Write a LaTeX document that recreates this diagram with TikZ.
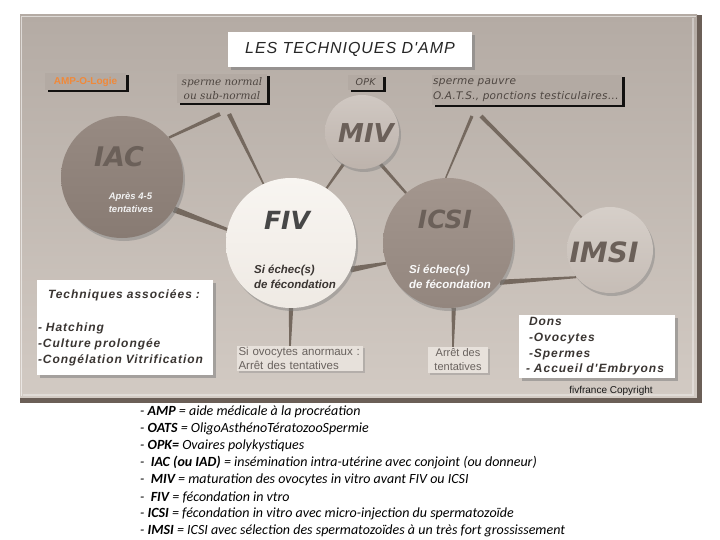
\documentclass[tikz,border=0pt]{standalone}
\usepackage{fontspec}
\setmainfont{Liberation Sans}
\newfontfamily\legfont{Carlito}
\newfontfamily\titlefont{Liberation Sans}[LetterSpace=6]
\newfontfamily\spacedfont{Liberation Sans}[LetterSpace=8]
\newfontfamily\boxserif{DejaVu Serif}
\newfontfamily\boxsans{DejaVu Sans}[LetterSpace=3]
\newfontfamily\bigfont{DejaVu Sans}
\usetikzlibrary{calc,shadows,backgrounds}
\definecolor{panelTop}{HTML}{B4ABA4}
\definecolor{panelMid}{HTML}{A69B94}
\definecolor{panelBot}{HTML}{D2CAC3}
\definecolor{panelDark}{HTML}{6B5F57}
\definecolor{conncol}{HTML}{75695F}
\definecolor{boxbg}{HTML}{B3AAA3}
\definecolor{boxtext}{HTML}{4E4641}
\definecolor{embtext}{HTML}{6B6059}
\definecolor{darktext}{HTML}{3A3532}
\definecolor{beige}{HTML}{E7E1DB}
\definecolor{orangetext}{HTML}{F0893A}
\definecolor{iacTop}{HTML}{978A82}
\definecolor{iacBot}{HTML}{887B73}
\definecolor{mivTop}{HTML}{D0C8C2}
\definecolor{mivBot}{HTML}{BDB3AC}
\definecolor{fivTop}{HTML}{F8F5F1}
\definecolor{fivBot}{HTML}{EFEAE4}
\definecolor{icsiTop}{HTML}{A3968E}
\definecolor{icsiBot}{HTML}{93867E}
\definecolor{imsiTop}{HTML}{D6CFC9}
\definecolor{imsiBot}{HTML}{C6BDB6}
\newcommand{\wedgeconn}[4]{%
  \fill[conn] ($(#1)!#3!90:(#2)$) -- ($(#1)!#3!-90:(#2)$) -- ($(#2)!#4!90:(#1)$) -- ($(#2)!#4!-90:(#1)$) -- cycle;}
\begin{document}
\begin{tikzpicture}[x=1pt,y=-1pt,
  circ/.style={circle,inner sep=0pt,drop shadow={shadow xshift=2pt,shadow yshift=-3pt,opacity=0.45}},
  conn/.style={fill=conncol},
  topbox/.style={rectangle,inner sep=0pt,fill=boxbg,text=boxtext,drop shadow={shadow xshift=2.5pt,shadow yshift=-2.5pt,opacity=0.9,fill=black}},
  whitebox/.style={rectangle,fill=white,drop shadow={shadow xshift=3pt,shadow yshift=-3pt,opacity=0.55}},
  beigebox/.style={rectangle,inner sep=0pt,fill=beige,text=boxtext!85!white,drop shadow={shadow xshift=2pt,shadow yshift=-2pt,opacity=0.35}},
  biglabel/.style={font=\bigfont\fontsize{25}{28}\selectfont\bfseries\itshape,text=embtext},
  smalllabel/.style={align=left,font=\fontsize{11.5}{15}\selectfont\bfseries\itshape},
  legline/.style={anchor=west,inner sep=0pt,font=\legfont\fontsize{14}{16}\selectfont\itshape,text=black}
]
\useasboundingbox (0,0) rectangle (720,540);
% panel
\begin{scope}[on background layer]
  \fill[top color=panelTop,middle color=panelMid,bottom color=panelBot] (20,15) rectangle (697,398);
  \fill[panelDark] (697,15) rectangle (702,403);
  \fill[panelDark] (20,398) rectangle (702,403);
  \draw[white,opacity=0.55,line width=1.2pt] (21.5,396) -- (21.5,16.5) -- (696,16.5);
  \draw[white,opacity=0.35,line width=2pt] (693,18) -- (693,395) -- (23,395);
\end{scope}

% title and top labels
\node[rectangle,fill=white,minimum width=244pt,minimum height=35pt,inner sep=0pt,
      drop shadow={shadow xshift=3pt,shadow yshift=-3pt,opacity=0.6},
      font=\titlefont\fontsize{16}{18}\selectfont\itshape,text=black!85] (title) at (350,49.5) {LES TECHNIQUES D'AMP};
\node[topbox,minimum width=81pt,minimum height=17pt,text=orangetext,font=\fontsize{10}{11}\selectfont\bfseries] (logo) at (85.5,81.5) {AMP-O-Logie};
\node[topbox,minimum width=90pt,minimum height=29pt,align=center,font=\boxserif\fontsize{10.5}{14}\selectfont\itshape] (snorm) at (222,88.5) {sperme normal\\ou sub-normal};
\node[topbox,minimum width=35pt,minimum height=15pt,font=\boxsans\fontsize{9.5}{11}\selectfont\itshape] (opk) at (365.5,82.5) {OPK};
\node[topbox,minimum width=190pt,minimum height=30pt,text width=188pt,align=left,font=\boxsans\fontsize{10.5}{15}\selectfont\itshape] (spauv) at (527,90) {sperme pauvre\\O.A.T.S., ponctions testiculaires...};

% circles
\node[circ,minimum size=122pt,top color=iacTop,bottom color=iacBot] (iac) at (122,177) {};
\node[circ,minimum size=74pt,top color=mivTop,bottom color=mivBot] (miv) at (362,132) {};
\node[circ,minimum size=130pt,top color=fivTop,bottom color=fivBot] (fiv) at (291,243) {};
\node[circ,minimum size=130pt,top color=icsiTop,bottom color=icsiBot] (icsi) at (448,243) {};
\node[circ,minimum size=86pt,top color=imsiTop,bottom color=imsiBot] (imsi) at (610,250) {};

% circle labels
\node[biglabel,font=\bigfont\fontsize{27}{28}\selectfont\bfseries\itshape] (iacl) at (119,157) {IAC};
\node[smalllabel,font=\fontsize{9.5}{13}\selectfont\bfseries\itshape,text=white!90!gray] (iact) at (131,203) {Après 4-5\\tentatives};
\node[biglabel,font=\bigfont\fontsize{26}{28}\selectfont\bfseries\itshape] (mivl) at (366,133) {MIV};
\node[biglabel,text=black!72] (fivl) at (287,220) {FIV};
\node[smalllabel,text=darktext] (fivt) at (295,277) {Si échec(s)\\de fécondation};
\node[biglabel] (icsil) at (445,219) {ICSI};
\node[smalllabel,text=white!95!gray] (icsit) at (450,277) {Si échec(s)\\de fécondation};
\node[biglabel,font=\bigfont\fontsize{28}{30}\selectfont\bfseries\itshape] (imsil) at (604,252) {IMSI};

% bottom boxes
\node[whitebox,inner xsep=1pt,inner ysep=0pt,minimum width=176pt,minimum height=95pt,text width=174pt,align=left,
      font=\spacedfont\fontsize{12}{16}\selectfont\bfseries\itshape,text=darktext] (tech) at (125,327.5)
  {\hspace*{10pt}Techniques associées :\\[17pt]- Hatching\\-Culture prolongée\\-Congélation Vitrification};
\node[beigebox,minimum width=126pt,minimum height=25pt,text width=123pt,align=left,font=\fontsize{11.5}{14}\selectfont] (ovo) at (300,358.5)
  {Si ovocytes anormaux :\\Arrêt des tentatives};
\node[beigebox,minimum width=60pt,minimum height=26pt,align=center,font=\fontsize{11}{14}\selectfont] (arret) at (458,360)
  {Arrêt des\\tentatives};
\node[whitebox,inner xsep=7pt,inner ysep=0pt,minimum width=156pt,minimum height=63pt,text width=142pt,align=left,
      font=\spacedfont\fontsize{12}{15.6}\selectfont\bfseries\itshape,text=darktext] (dons) at (597,346.5)
  {\hspace*{3pt}Dons\\\hspace*{3pt}-Ovocytes\\\hspace*{3pt}-Spermes\\- Accueil d'Embryons};
\node[font=\fontsize{10}{11}\selectfont,text=black!90] (copy) at (611,391) {fivfrance Copyright};

% connectors
\coordinate (snA) at (220,114);
\coordinate (snB) at (229,114);
\coordinate (spA) at (472,116);
\coordinate (spB) at (481,116);
\coordinate (ovoTop) at (290,347);
\coordinate (arretTop) at (453,347);
\begin{scope}[on background layer]
  \wedgeconn{snA}{iac.40}{2pt}{1.2pt}
  \wedgeconn{snB}{fiv.115}{2.2pt}{0.8pt}
  \wedgeconn{spA}{icsi.92}{1.6pt}{0.7pt}
  \wedgeconn{spB}{imsi.131}{2pt}{0.9pt}
  \wedgeconn{miv.240}{fiv.57}{1.6pt}{1pt}
  \wedgeconn{miv.300}{icsi.130}{1.7pt}{1.2pt}
  \wedgeconn{iac.-32}{fiv.168}{3pt}{1.5pt}
  \wedgeconn{fiv.-24}{icsi.198}{3pt}{1.3pt}
  \wedgeconn{icsi.-37}{imsi.219}{2.6pt}{1pt}
  \wedgeconn{fiv.-90}{ovoTop}{2.2pt}{0.8pt}
  \wedgeconn{icsi.-85}{arretTop}{2.2pt}{0.8pt}
\end{scope}

% legend
\node[legline] (l1) at (140,412) {- \textbf{AMP} = aide médicale à la procréation};
\node[legline] (l2) at (140,429) {- \textbf{OATS} = OligoAsthénoTératozooSpermie};
\node[legline] (l3) at (140,446) {- \textbf{OPK=} Ovaires polykystiques};
\node[legline] (l4) at (140,463) {-\ \ \textbf{IAC (ou IAD)} = insémination intra-utérine avec conjoint (ou donneur)};
\node[legline] (l5) at (140,480) {-\ \ \textbf{MIV} = maturation des ovocytes in vitro avant FIV ou ICSI};
\node[legline] (l6) at (140,497) {-\ \ \textbf{FIV} = fécondation in vtro};
\node[legline] (l7) at (140,514) {- \textbf{ICSI} = fécondation in vitro avec micro-injection du spermatozoïde};
\node[legline] (l8) at (140,531) {- \textbf{IMSI} = ICSI avec sélection des spermatozoïdes à un très fort grossissement};
\end{tikzpicture}
\end{document}
